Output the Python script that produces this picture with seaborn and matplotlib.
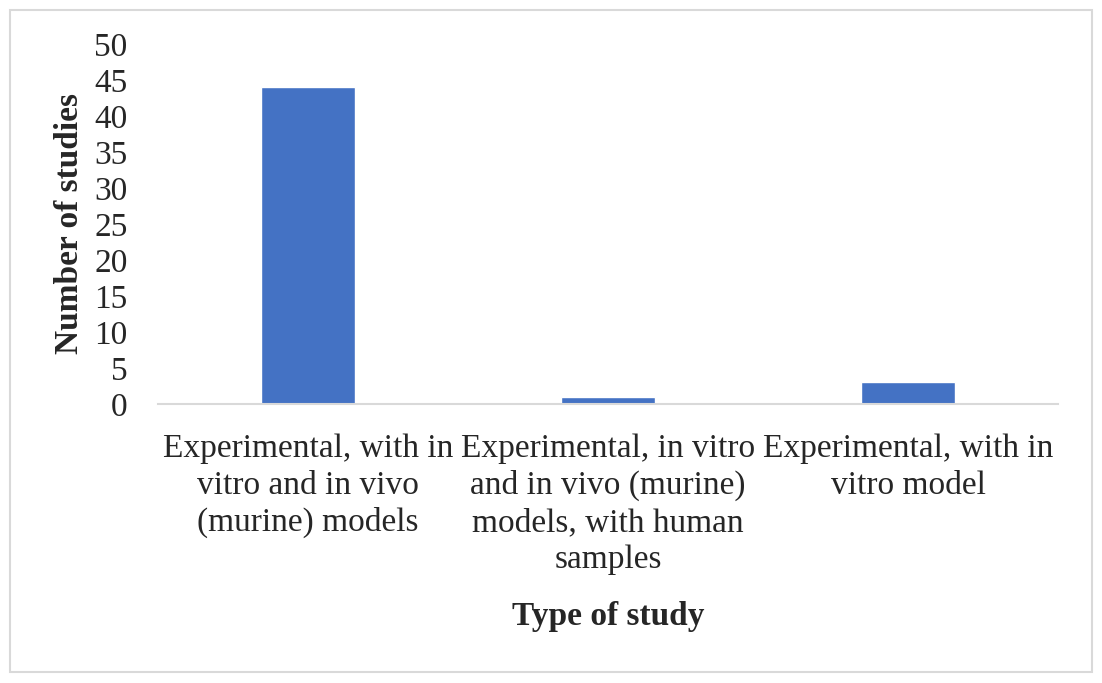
import matplotlib
matplotlib.use('Agg')
import matplotlib.pyplot as plt
import seaborn as sns
import pandas as pd

# Data
study_types = [
    'Experimental, with in\nvitro and in vivo\n(murine) models',
    'Experimental, in vitro\nand in vivo (murine)\nmodels, with human\nsamples',
    'Experimental, with in\nvitro model',
]
n_studies = [44, 1, 3]
y_ticks = [0, 5, 10, 15, 20, 25, 30, 35, 40, 45, 50]

df = pd.DataFrame({'type': study_types, 'n': n_studies})

sns.set_style('white')
plt.rcParams['font.family'] = ['Liberation Serif', 'DejaVu Serif']

W, H = 1102, 683
fig = plt.figure(figsize=(W / 100, H / 100), dpi=100)
ax = fig.add_axes([158 / W, 1 - 404 / H, 900 / W, 360 / H])

sns.barplot(data=df, x='type', y='n', color='#4472C4', width=0.313,
            saturation=1, ax=ax)

ax.set_ylim(0, 50)
ax.set_xlim(-0.5, 2.5)
ax.set_yticks(y_ticks)
ax.set_yticklabels([str(t) for t in y_ticks], fontsize=24)
ax.tick_params(axis='y', length=0, pad=22)
ax.tick_params(axis='x', length=0, pad=21)
for lab in ax.get_xticklabels():
    lab.set_fontsize(24)
    lab.set_linespacing(1.27)
    lab.set_horizontalalignment('center')

for s in ['top', 'right', 'left']:
    ax.spines[s].set_visible(False)
ax.spines['bottom'].set_color('#D9D9D9')
ax.spines['bottom'].set_linewidth(1.5)

ax.set_xlabel('')
ax.set_ylabel('')
fig.text(608 / W, 1 - 617 / H, 'Type of study', ha='center', va='center',
         fontsize=24, fontweight='bold')
fig.text(69 / W, 1 - 224 / H, 'Number of studies', ha='center', va='center',
         rotation=90, fontsize=24, fontweight='bold')

# outer chart border
fig.patches.append(plt.Rectangle((10 / W, 11 / H), 1082 / W, 662 / H,
                                 transform=fig.transFigure, fill=False,
                                 edgecolor='#D9D9D9', linewidth=1.5))

fig.savefig('out.png', dpi=100)
